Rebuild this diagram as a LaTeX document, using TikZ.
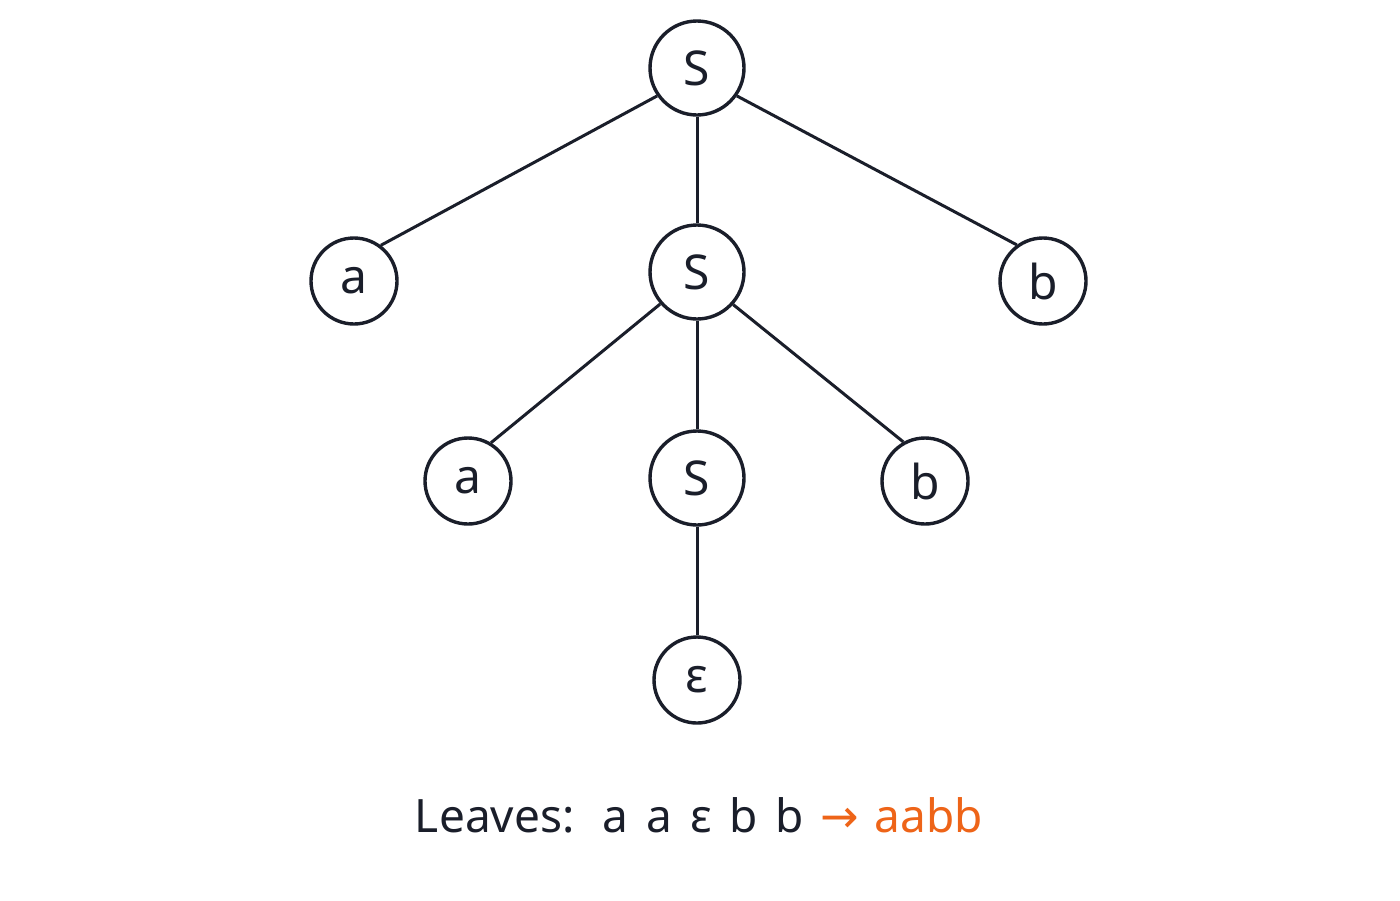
\documentclass[tikz,border=0pt]{standalone}
\usepackage{fontspec}
\setmainfont{Noto Sans}
\newfontfamily\arrowfont{DejaVu Sans}
\definecolor{ink}{HTML}{1A1E2A}
\definecolor{accent}{HTML}{EE6418}
\begin{document}
\begin{tikzpicture}[x=0.5pt,y=-0.5pt,
  nt/.style={circle,draw=ink,line width=1.7pt,fill=white,minimum size=47pt,inner sep=0pt,font=\fontsize{24}{28}\selectfont,text=ink},
  lf/.style={circle,draw=ink,line width=1.7pt,fill=white,minimum size=43pt,inner sep=0pt,font=\fontsize{24}{28}\selectfont,text=ink},
  edge/.style={draw=ink,line width=1.5pt}]
\useasboundingbox (0,0) rectangle (1400,900);
\fill[white] (0,0) rectangle (1400,900);
\node[nt] (s1) at (697,68) {S};
\node[lf] (a1) at (354,281) {a};
\node[nt] (s2) at (697,272) {S};
\node[lf] (b1) at (1043,281) {b};
\node[lf] (a2) at (468,481) {a};
\node[nt] (s3) at (697,478) {S};
\node[lf] (b2) at (925,481) {b};
\node[lf] (e) at (697,680) {ε};
\draw[edge] (s1.215.5) -- (a1.53.6);
\draw[edge] (s1) -- (s2);
\draw[edge] (s1.325) -- (b1.126.4);
\draw[edge] (s2.221.9) -- (a2.59.7);
\draw[edge] (s2) -- (s3);
\draw[edge] (s2.318.8) -- (b2.119.3);
\draw[edge] (s3) -- (e);
\node[font=\fontsize{23}{27}\selectfont,text=ink] (leaves) at (699,815) {Leaves:\hspace{14pt}a\hspace{9pt}a\hspace{9pt}ε\hspace{9pt}b\hspace{9pt}b\hspace{8pt}\textcolor{accent}{{\arrowfont →}\hspace{8pt}aabb}};
\end{tikzpicture}
\end{document}
